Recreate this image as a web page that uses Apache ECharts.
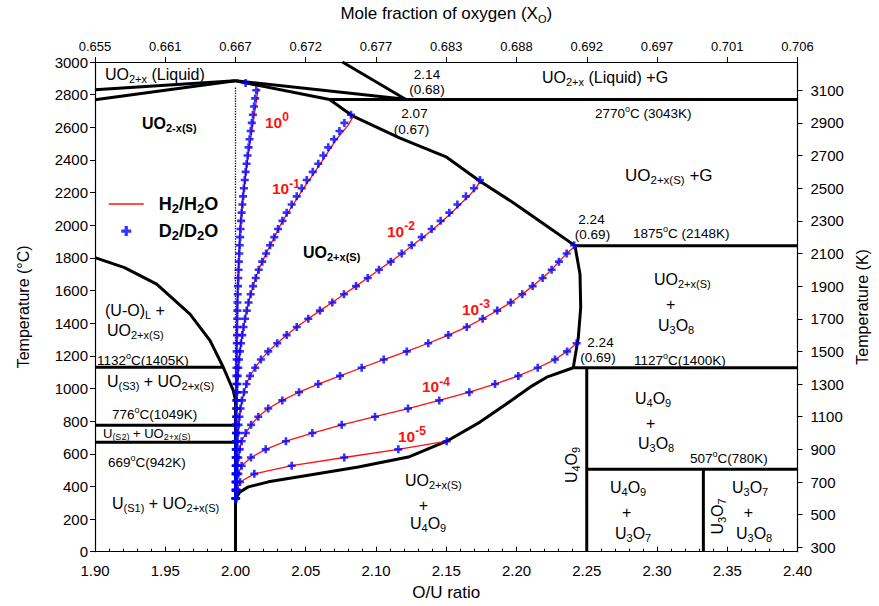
<!DOCTYPE html>
<html><head><meta charset="utf-8">
<script src="https://cdn.jsdelivr.net/npm/echarts@6/dist/echarts.min.js"></script>
<style>html,body{margin:0;padding:0;background:#fff}#c{width:879px;height:606px}</style>
</head><body><div id="c"></div><script>
// ---------- tick labels ----------
const topTickLabels = ['0.655','0.661','0.667','0.672','0.677','0.683','0.688','0.692','0.697','0.701','0.706'];
const kelvinTicks = [300,500,700,900,1100,1300,1500,1700,1900,2100,2300,2500,2700,2900,3100];

// ---------- phase boundaries [O/U, T(°C)] ----------
const liqLeft = [[1.90,2830],[2.00,2885]];
const solLeft = [[1.90,2769],[2.00,2885]];
const liqRight = [[2.00,2885],[2.121,2772]];
const gasLine = [[2.0761,3000],[2.121,2772]];
const solRight = [[2.00,2885],[2.067,2770],[2.0836,2668],[2.1171,2534],[2.1503,2417],[2.174,2270],[2.1977,2138],[2.2215,1995],[2.2416,1875]];
const u3o8Bound = [[2.2416,1875],[2.2452,1700],[2.2457,1496],[2.2440,1313],[2.2404,1127]];
const u4o9Bound = [[2.2404,1127],[2.2215,1069],[2.2096,1008],[2.1930,906],[2.1740,794],[2.1503,677],[2.1230,580],[2.0874,519],[2.0518,468],[2.0234,428],[2.0091,397],[2.0032,366],[2.0008,335],[2.0000,300]];
const leftBound = [[2.00,0],[2.00,926],[1.9984,988],[1.9913,1130],[1.9819,1293],[1.9676,1456],[1.9439,1639],[1.921,1740],[1.90,1802]];
const iso1132 = [[1.90,1130],[1.9913,1130]];
const iso776 = [[1.90,774],[2.00,774]];
const iso669 = [[1.90,670],[2.00,670]];
const iso2770 = [[2.067,2770],[2.40,2770]];
const iso1875 = [[2.2416,1875],[2.40,1875]];
const iso1127 = [[2.2404,1127],[2.40,1127]];
const iso507 = [[2.25,505],[2.40,505]];
const lineU4O9 = [[2.25,0],[2.25,1127]];
const lineU3O7 = [[2.333,0],[2.333,505]];
const stoich = [[2.00,0],[2.00,2850]];

// ---------- oxygen potential curves: H2/H2O (lines) and D2/D2O (markers) ----------
const d2c0 = [[2.0000,327],[2.0001,377],[2.0001,427],[2.0001,477],[2.0002,527],[2.0002,577],[2.0002,627],[2.0003,677],[2.0003,727],[2.0003,777],[2.0004,827],[2.0004,877],[2.0005,927],[2.0005,977],[2.0006,1027],[2.0006,1077],[2.0007,1127],[2.0008,1177],[2.0008,1227],[2.0009,1277],[2.0010,1327],[2.0011,1377],[2.0012,1427],[2.0013,1477],[2.0014,1527],[2.0016,1577],[2.0018,1627],[2.0020,1677],[2.0022,1727],[2.0024,1777],[2.0027,1827],[2.0030,1877],[2.0033,1927],[2.0036,1977],[2.0040,2027],[2.0044,2077],[2.0049,2127],[2.0054,2177],[2.0060,2227],[2.0066,2277],[2.0072,2327],[2.0079,2377],[2.0086,2427],[2.0093,2477],[2.0100,2527],[2.0108,2577],[2.0116,2627],[2.0124,2677],[2.0132,2727],[2.0140,2777],[2.0148,2827],[2.0072,2872]];
const h2c0 = [[2.0000,327],[2.0002,700],[2.0004,1069],[2.0009,1313],[2.0016,1618],[2.0032,1985],[2.0056,2189],[2.0091,2433],[2.0127,2637],[2.0162,2840]];
const d2c1 = [[2.0000,327],[2.0001,377],[2.0001,427],[2.0001,477],[2.0002,527],[2.0002,577],[2.0003,627],[2.0003,677],[2.0004,727],[2.0005,777],[2.0006,827],[2.0008,877],[2.0009,927],[2.0011,977],[2.0013,1027],[2.0016,1077],[2.0020,1127],[2.0025,1177],[2.0032,1227],[2.0039,1277],[2.0048,1327],[2.0057,1377],[2.0068,1427],[2.0080,1477],[2.0093,1527],[2.0108,1577],[2.0125,1627],[2.0144,1677],[2.0165,1727],[2.0190,1777],[2.0218,1827],[2.0246,1877],[2.0276,1927],[2.0303,1977],[2.0334,2027],[2.0364,2077],[2.0400,2127],[2.0436,2177],[2.0471,2227],[2.0507,2277],[2.0550,2327],[2.0589,2377],[2.0625,2427],[2.0660,2477],[2.0701,2527],[2.0740,2577],[2.0775,2627],[2.0822,2677]];
const h2c1 = [[2.0000,327],[2.0003,677],[2.0011,977],[2.0020,1127],[2.0032,1227],[2.0048,1327],[2.0068,1427],[2.0093,1527],[2.0125,1627],[2.0165,1727],[2.0218,1827],[2.0276,1927],[2.0336,2027],[2.0410,2127],[2.0485,2227],[2.0565,2327],[2.0642,2427],[2.0718,2527],[2.0800,2610],[2.0838,2667]];
const d2c2 = [[2.0001,327],[2.0002,377],[2.0003,427],[2.0005,477],[2.0007,527],[2.0009,577],[2.0011,627],[2.0014,677],[2.0018,727],[2.0022,777],[2.0028,827],[2.0036,877],[2.0046,927],[2.0060,977],[2.0078,1027],[2.0103,1077],[2.0140,1127],[2.0181,1177],[2.0233,1227],[2.0297,1277],[2.0364,1327],[2.0436,1377],[2.0518,1427],[2.0601,1477],[2.0689,1527],[2.0772,1577],[2.0858,1627],[2.0941,1677],[2.1021,1727],[2.1105,1777],[2.1183,1827],[2.1254,1877],[2.1325,1927],[2.1396,1977],[2.1460,2027],[2.1522,2077],[2.1579,2127],[2.1640,2177],[2.1697,2227],[2.1740,2277]];
const h2c2 = [[2.0001,327],[2.0005,477],[2.0011,627],[2.0018,727],[2.0028,827],[2.0046,927],[2.0078,1027],[2.0103,1077],[2.0140,1127],[2.0181,1177],[2.0233,1227],[2.0297,1277],[2.0364,1327],[2.0436,1377],[2.0518,1427],[2.0601,1477],[2.0689,1527],[2.0772,1577],[2.0858,1627],[2.0941,1677],[2.1021,1727],[2.1105,1777],[2.1185,1827],[2.1260,1877],[2.1335,1927],[2.1408,1977],[2.1475,2027],[2.1538,2077],[2.1597,2127],[2.1658,2177],[2.1712,2227],[2.1740,2270]];
const d2c3 = [[2.0002,327],[2.0004,377],[2.0007,427],[2.0010,477],[2.0014,527],[2.0020,577],[2.0030,627],[2.0044,677],[2.0073,727],[2.0111,777],[2.0162,827],[2.0233,877],[2.0333,927],[2.0452,977],[2.0589,1027],[2.0744,1077],[2.0898,1127],[2.1055,1177],[2.1219,1227],[2.1372,1277],[2.1515,1327],[2.1646,1377],[2.1759,1427],[2.1863,1477],[2.1959,1527],[2.2041,1577],[2.2115,1627],[2.2186,1677],[2.2250,1727],[2.2302,1777],[2.2357,1827],[2.2410,1877]];
const h2c3 = [[2.0002,327],[2.0007,427],[2.0014,527],[2.0030,627],[2.0044,677],[2.0073,727],[2.0111,777],[2.0162,827],[2.0233,877],[2.0333,927],[2.0452,977],[2.0589,1027],[2.0744,1077],[2.0898,1127],[2.1055,1177],[2.1219,1227],[2.1372,1277],[2.1515,1327],[2.1646,1377],[2.1759,1427],[2.1863,1477],[2.1959,1527],[2.2041,1577],[2.2115,1627],[2.2186,1677],[2.2250,1727],[2.2302,1777],[2.2357,1827],[2.2416,1872]];
const d2c4 = [[2.0002,327],[2.0005,377],[2.0010,427],[2.0020,477],[2.0044,527],[2.0110,577],[2.0215,627],[2.0359,677],[2.0547,727],[2.0756,777],[2.0993,827],[2.1228,877],[2.1450,927],[2.1664,977],[2.1847,1027],[2.2013,1077],[2.2151,1127],[2.2274,1177],[2.2360,1227],[2.2428,1277]];
const h2c4 = [[2.0002,327],[2.0005,377],[2.0010,427],[2.0020,477],[2.0044,527],[2.0110,577],[2.0215,627],[2.0359,677],[2.0547,727],[2.0756,777],[2.0993,827],[2.1228,877],[2.1450,927],[2.1664,977],[2.1847,1027],[2.2013,1077],[2.2151,1127],[2.2274,1177],[2.2360,1227],[2.2428,1277]];
const d2c5 = [[2.0005,327],[2.0013,377],[2.0032,427],[2.0134,477],[2.0400,527],[2.0774,577],[2.1159,627],[2.1503,677]];
const h2c5 = [[2.0005,327],[2.0013,377],[2.0032,427],[2.0134,477],[2.0400,527],[2.0774,577],[2.1159,627],[2.1503,677]];

// ---------- styling ----------
const F = "'Liberation Sans', Arial, Helvetica, sans-serif";
const PLUS = 'path://M2.7,0H5.3V2.7H8V5.3H5.3V8H2.7V5.3H0V2.7H2.7Z';
const RED = '#ff1010', BLUE = '#0000ff';

const RICH = {
  n: {fontSize:16, lineHeight:20, fontFamily:F, fill:'#000', color:'#000'},
  s: {fontSize:11, lineHeight:11, verticalAlign:'bottom', fontFamily:F, fill:'#000', color:'#000'},
  b: {fontSize:16, lineHeight:20, fontWeight:'bold', fontFamily:F, fill:'#000', color:'#000'},
  bs: {fontSize:11, lineHeight:11, fontWeight:'bold', verticalAlign:'bottom', fontFamily:F, fill:'#000', color:'#000'},
  g: {fontSize:17, lineHeight:21, fontFamily:F, fill:'#000', color:'#000'},
  gs: {fontSize:11.5, lineHeight:11, verticalAlign:'bottom', fontFamily:F, fill:'#000', color:'#000'},
  m: {fontSize:13, lineHeight:16, fontFamily:F, fill:'#000', color:'#000'},
  ms: {fontSize:9, lineHeight:9, verticalAlign:'bottom', fontFamily:F, fill:'#000', color:'#000'},
  t: {fontSize:13.5, lineHeight:18, fontFamily:F, fill:'#000', color:'#000'},
  o: {fontSize:9, lineHeight:9, verticalAlign:'top', fontFamily:F, fill:'#000', color:'#000'},
  r: {fontSize:15.5, lineHeight:22, fontWeight:'bold', fontFamily:F, fill:RED, color:RED},
  rs: {fontSize:12, lineHeight:12, fontWeight:'bold', verticalAlign:'top', fontFamily:F, fill:RED, color:RED}
};

function T(x, y, text, align, rot) {
  return {type:'text', x:x, y:y, rotation:rot||0, z:100, silent:true,
    style:{text:text, rich:RICH, align:align||'left', verticalAlign:'middle',
      textAlign:align||'left', textVerticalAlign:'middle', fill:'#000', font:'16px ' + F}};
}

const labels = [
  T(105,74,'{n|UO}{s|2+x}{n| (Liquid)}'),
  T(142,123,'{b|UO}{bs|2-x(S)}'),
  T(303,252,'{b|UO}{bs|2+x(S)}'),
  T(427,74.5,'{t|2.14}','center'), T(427,89.5,'{t|(0.68)}','center'),
  T(414.5,113,'{t|2.07}','center'), T(411.5,129,'{t|(0.67)}','center'),
  T(542,77,'{n|UO}{s|2+x}{n| (Liquid) +G}'),
  T(595,113,'{t|2770}{o|o}{t|C (3043K)}'),
  T(625,175.5,'{g|UO}{gs|2+x(S)}{g| +G}'),
  T(591.5,219.5,'{t|2.24}','center'), T(592.5,234,'{t|(0.69)}','center'),
  T(633,233.5,'{t|1875}{o|o}{t|C (2148K)}'),
  T(654,279,'{n|UO}{s|2+x(S)}'), T(670.7,304,'{n|+}','center'), T(658,325.5,'{n|U}{s|3}{n|O}{s|8}'),
  T(600.5,342,'{t|2.24}','center'), T(598,357.5,'{t|(0.69)}','center'),
  T(634,360,'{t|1127}{o|o}{t|C(1400K)}'),
  T(635,398,'{n|U}{s|4}{n|O}{s|9}'), T(650.7,423,'{n|+}','center'), T(638,443.5,'{n|U}{s|3}{n|O}{s|8}'),
  T(690,458,'{t|507}{o|o}{t|C(780K)}'),
  T(571,465,'{n|U}{s|4}{n|O}{s|9}','center',Math.PI/2),
  T(610,487.5,'{n|U}{s|4}{n|O}{s|9}'), T(626.7,512.5,'{n|+}','center'), T(615,533.3,'{n|U}{s|3}{n|O}{s|7}'),
  T(717,516.5,'{n|U}{s|3}{n|O}{s|7}','center',Math.PI/2),
  T(732,487.5,'{n|U}{s|3}{n|O}{s|7}'), T(748.3,512.5,'{n|+}','center'), T(736,533.3,'{n|U}{s|3}{n|O}{s|8}'),
  T(405,480.5,'{n|UO}{s|2+x(S)}'), T(423.3,505,'{n|+}','center'), T(410,523.5,'{n|U}{s|4}{n|O}{s|9}'),
  T(105,310,'{n|(U-O)}{s|L}{n| +}'), T(107,330.7,'{n|UO}{s|2+x(S)}'),
  T(97,360,'{t|1132}{o|o}{t|C(1405K)}'),
  T(107,381,'{n|U}{s|(S3)}{n| + UO}{s|2+x(S)}'),
  T(112,414,'{t|776}{o|o}{t|C(1049K)}'),
  T(103,433,'{m|U}{ms|(S2)}{m| + UO}{ms|2+x(S)}'),
  T(108,462.5,'{t|669}{o|o}{t|C(942K)}'),
  T(112,503.5,'{n|U}{s|(S1)}{n| + UO}{s|2+x(S)}'),
  T(265,122,'{r|10}{rs|0}'),
  T(272,188.5,'{r|10}{rs|-1}'),
  T(387,231,'{r|10}{rs|-2}'),
  T(462,309,'{r|10}{rs|-3}'),
  T(422,386.5,'{r|10}{rs|-4}'),
  T(398,436,'{r|10}{rs|-5}')
];

function blk(data, w, type) {
  return {type:'line', data:data, symbol:'none', silent:true, z:2,
    lineStyle:{color:'#000', width:w||3, type:type||'solid', cap:'butt', join:'round'}};
}
function red(data) {
  return {type:'line', name:'H2/H2O', data:data, symbol:'none', silent:true, z:3,
    lineStyle:{color:RED, width:1.3}};
}
function blue(data) {
  return {type:'scatter', name:'D2/D2O', data:data, symbol:PLUS, symbolSize:8, symbolKeepAspect:true, silent:true, z:4,
    itemStyle:{color:BLUE}};
}

const series = [
  blk(stoich,1.3,'dotted'),
  blk(liqLeft), blk(solLeft), blk(liqRight), blk(gasLine), blk(solRight),
  blk(u3o8Bound), blk(u4o9Bound), blk(leftBound),
  blk(iso1132), blk(iso776), blk(iso669), blk(iso2770), blk(iso1875), blk(iso1127), blk(iso507),
  blk(lineU4O9), blk(lineU3O7),
  red(h2c0), red(h2c1), red(h2c2), red(h2c3), red(h2c4), red(h2c5),
  blue(d2c0), blue(d2c1), blue(d2c2), blue(d2c3), blue(d2c4), blue(d2c5)
];

const axisCommon = {
  axisLine:{show:true, onZero:false, lineStyle:{color:'#000', width:1.2}},
  splitLine:{show:false},
  axisLabel:{color:'#000', fontFamily:F, fontSize:15},
  nameTextStyle:{color:'#000', fontFamily:F, fontSize:17}
};
const plain = function(v){ return String(Math.round(v)); };

const chart = echarts.init(document.getElementById('c'), null, {renderer:'svg'});
chart.setOption({
  animation:false,
  backgroundColor:'#fff',
  grid:{left:95, right:81.5, top:60.5, bottom:54.3},
  legend:{
    orient:'vertical', left:103, top:190, itemWidth:35, itemHeight:10, itemGap:7,
    data:[{name:'H2/H2O', itemStyle:{opacity:0}}, {name:'D2/D2O'}], selectedMode:false,
    lineStyle:{width:1.5},
    formatter:function(name){
      return name === 'H2/H2O' ? '{sp|}{L|H}{ls|2}{L|/H}{ls|2}{L|O}' : '{sp|}{L|D}{ls|2}{L|/D}{ls|2}{L|O}';
    },
    textStyle:{rich:{
      sp:{width:10},
      L:{fontSize:18, lineHeight:22, fontWeight:'bold', fontFamily:F, color:'#000'},
      ls:{fontSize:13, lineHeight:13, fontWeight:'bold', verticalAlign:'bottom', fontFamily:F, color:'#000'}
    }}
  },
  xAxis:[
    Object.assign({}, axisCommon, {
      type:'value', position:'bottom', min:1.9, max:2.4, interval:0.05,
      name:'O/U ratio', nameLocation:'middle', nameGap:32,
      axisTick:{inside:true, length:5, lineStyle:{color:'#000'}},
      minorTick:{show:true, splitNumber:5, length:3, lineStyle:{color:'#000'}},
      axisLabel:{color:'#000', fontFamily:F, fontSize:15, margin:11, formatter:function(v){return v.toFixed(2);}}
    }),
    Object.assign({}, axisCommon, {
      type:'value', position:'top', min:1.9, max:2.4, interval:0.05,
      name:'{a|Mole fraction of oxygen (X}{s|O}{a|)}', nameLocation:'middle', nameGap:38,
      nameTextStyle:{rich:{
        a:{fontSize:17, lineHeight:21, fontFamily:F, color:'#000'},
        s:{fontSize:11, lineHeight:11, verticalAlign:'bottom', fontFamily:F, color:'#000'}}},
      axisTick:{inside:false, length:5, lineStyle:{color:'#000'}},
      axisLabel:{color:'#000', fontFamily:F, fontSize:13, margin:9,
        formatter:function(v){ return topTickLabels[Math.round((v-1.9)/0.05)]; }}
    })
  ],
  yAxis:[
    Object.assign({}, axisCommon, {
      type:'value', position:'left', min:0, max:3000, interval:200,
      name:'Temperature (\u00B0C)', nameLocation:'middle', nameGap:64,
      nameTextStyle:{color:'#000', fontFamily:F, fontSize:16},
      axisTick:{inside:false, length:5, lineStyle:{color:'#000'}},
      axisLabel:{color:'#000', fontFamily:F, fontSize:15, margin:7, formatter:plain}
    }),
    Object.assign({}, axisCommon, {
      type:'value', position:'right', min:273.15, max:3273.15,
      name:'Temperature (K)', nameLocation:'middle', nameGap:57,
      nameTextStyle:{color:'#000', fontFamily:F, fontSize:16},
      axisTick:{inside:false, length:5, customValues:kelvinTicks, lineStyle:{color:'#000'}},
      axisLabel:{color:'#000', fontFamily:F, fontSize:15, margin:13, customValues:kelvinTicks, formatter:plain}
    })
  ],
  graphic:labels,
  series:series
});
</script></body></html>
